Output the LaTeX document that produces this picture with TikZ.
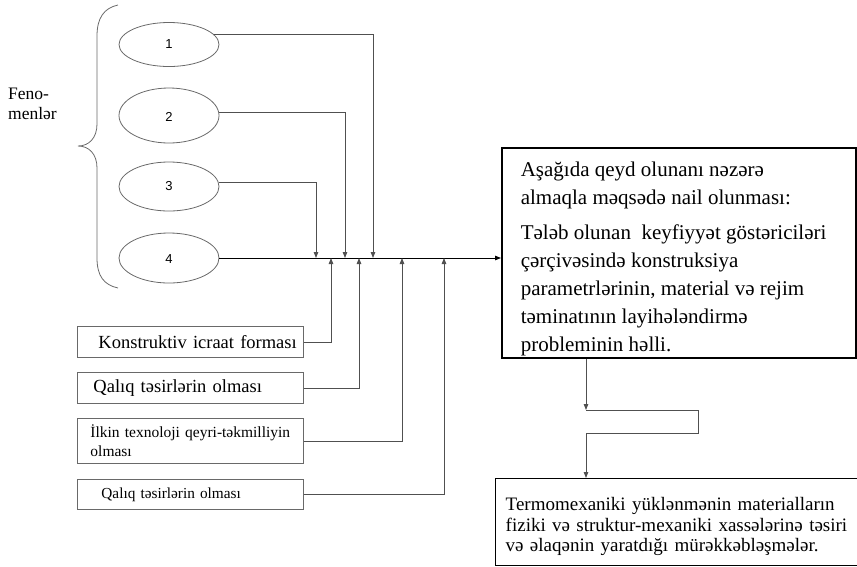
\documentclass[tikz,border=0pt]{standalone}
\usepackage{fontspec}
\setmainfont{Liberation Serif}
\newfontfamily\numfont{Liberation Sans}
\usepackage{tikz}
\usetikzlibrary{arrows.meta,positioning,shapes.geometric}
\definecolor{lineGray}{RGB}{80,80,80}
\definecolor{boxGray}{RGB}{105,105,105}

\begin{document}
\begin{tikzpicture}[x=1pt,y=-1pt,
    phen/.style={draw=boxGray, line width=0.8pt, ellipse, minimum width=100pt, inner sep=0pt,
        font=\numfont\fontsize{13}{15}\selectfont},
    factor/.style={draw=boxGray, line width=0.9pt, anchor=north west, text width=210pt,
        inner xsep=8pt, align=left, minimum height=31pt},
    link/.style={draw=lineGray, line width=0.8pt},
    tip/.style={-{Triangle[length=6pt,width=4.5pt]}},
    ]
    \useasboundingbox (0,0) rectangle (857,566);

    % brace and its label
    \draw[boxGray, line width=0.8pt] (118,5) .. controls (104,8) and (97,18) .. (97,36)
        -- (97,124) .. controls (97,138) and (89,146) .. (78,146)
        .. controls (89,146) and (97,154) .. (97,168)
        -- (97,258) .. controls (97,276) and (104,285) .. (118,288);
    \node[anchor=north west, align=left, inner sep=0pt,
        font=\fontsize{17.5}{20}\selectfont] (phenlbl) at (8,88) {Feno-\\menlər};

    % phenomena
    \node[phen, minimum height=44pt] (e1) at (169,44.5) {\raisebox{-7pt}{1}};
    \node[phen, minimum height=55pt] (e2) at (169,115.5) {\raisebox{-11pt}{2}};
    \node[phen, minimum height=49pt] (e3) at (169,186.5) {\raisebox{-9pt}{3}};
    \node[phen, minimum height=50pt] (e4) at (169,258) {\raisebox{-10pt}{4}};

    % goal box
    \node[draw=black, line width=1.6pt, anchor=north west, inner xsep=19pt, inner ysep=2pt,
        font=\fontsize{21}{28}\selectfont] (goal) at (501,147)
        {\parbox[c][202pt][b]{316pt}{\raggedright
         Aşağıda qeyd olunanı nəzərə\\
         almaqla məqsədə nail olunması:\\[7pt]
         Tələb olunan\ \ keyfiyyət göstəriciləri\\
         çərçivəsində konstruksiya\\
         parametrlərinin, material və rejim\\
         təminatının layihələndirmə\\
         probleminin həlli.}};

    % factors
    \node[factor, font=\fontsize{18.5}{21}\selectfont] (k1) at (77,326)
        {\mbox{\hspace*{13pt}Konstruktiv icraat forması}};
    \node[factor, font=\fontsize{18.5}{21}\selectfont] (k2) at (77,372)
        {\mbox{\hspace*{8pt}Qalıq təsirlərin olması}};
    \node[factor, minimum height=45pt, font=\fontsize{15.5}{19}\selectfont] (k3) at (77,418)
        {\mbox{\hspace*{5pt}İlkin texnoloji qeyri-təkmilliyin}\\\hspace*{5pt}olması};
    \node[factor, minimum height=30pt, font=\fontsize{15.3}{19}\selectfont] (k4) at (77,479)
        {\mbox{\hspace*{16pt}Qalıq təsirlərin olması}};

    % effect box
    \node[draw=black, line width=1.4pt, anchor=north west, text width=347pt, inner xsep=10pt,
        minimum height=87pt, align=left, font=\fontsize{19}{20.5}\selectfont] (effect) at (495,478)
        {\rule{0pt}{22pt}Termomexaniki yüklənmənin materialların\\
         fiziki və struktur-mexaniki xassələrinə təsiri\\
         və əlaqənin yaratdığı mürəkkəbləşmələr.};

    % joints on the main line
    \coordinate (d3) at (316,258);
    \coordinate (d2) at (345,258);
    \coordinate (d1) at (373,258);
    \coordinate (u1) at (331,258);
    \coordinate (u2) at (359,258);
    \coordinate (u3) at (402,258);
    \coordinate (u4) at (444,258);
    \coordinate (loopa) at (586,410);
    \coordinate (loopb) at (698,433);

    % main line
    \draw[black, line width=0.9pt, tip] (e4.east) -- (e4.east -| goal.west);

    % phenomena to main line
    \draw[link, tip] (e1.12) -| (d1);
    \draw[link, tip] (e2.4) -| (d2);
    \draw[link, tip] (e3.5) -| (d3);

    % factors to main line
    \draw[link, tip] (k1.east) -| (u1);
    \draw[link, tip] (k2.east) -| (u2);
    \draw[link, tip] (k3.east) -| (u3);
    \draw[link, tip] (k4.east) -| (u4);

    % goal to effect
    \draw[link, tip] (goal.south -| loopa) -- (loopa);
    \draw[link] (loopa) -| (loopb) -- (loopb -| loopa);
    \draw[link, tip] (loopb -| loopa) -- (effect.north -| loopa);
\end{tikzpicture}
\end{document}
